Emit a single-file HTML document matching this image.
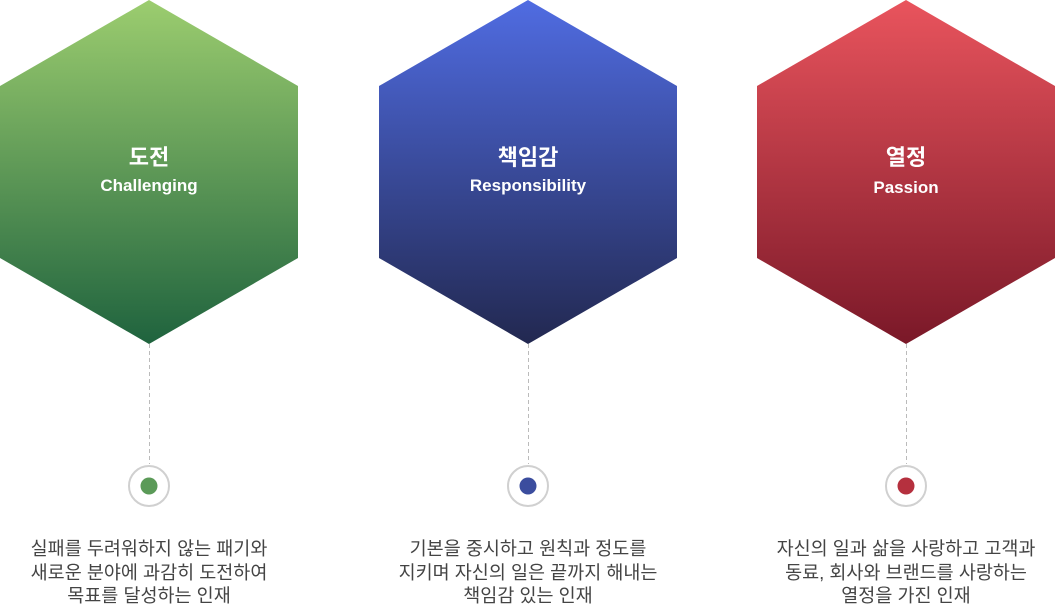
<!DOCTYPE html><html><head><meta charset="utf-8"><style>
body{margin:0;width:1055px;height:604px;background:#fff;overflow:hidden;font-family:"Liberation Sans","Noto Sans CJK KR",sans-serif;position:relative}
.t{position:absolute;width:300px;text-align:center;color:#fff}
.h{font-size:22px;font-weight:bold;top:140px}
.s{font-size:17px;font-weight:bold;top:176px}
.d{position:absolute;width:340px;text-align:center;color:#444;font-size:18.5px;line-height:23.5px;top:537px}
</style></head><body>
<svg width="1055" height="604" style="position:absolute;left:0;top:0">
<defs>
<linearGradient id="g" x1="0" y1="0" x2="0" y2="1"><stop offset="0" stop-color="#9ccd6f"/><stop offset="1" stop-color="#1f633e"/></linearGradient>
<linearGradient id="b" x1="0" y1="0" x2="0" y2="1"><stop offset="0" stop-color="#506ce2"/><stop offset="1" stop-color="#222850"/></linearGradient>
<linearGradient id="r" x1="0" y1="0" x2="0" y2="1"><stop offset="0" stop-color="#e9545d"/><stop offset="1" stop-color="#7a1828"/></linearGradient>
</defs>
<g stroke="#bbb" stroke-dasharray="4,3" stroke-width="1">
<line x1="149.5" y1="344" x2="149.5" y2="464"/><line x1="528.5" y1="344" x2="528.5" y2="464"/><line x1="906.5" y1="344" x2="906.5" y2="464"/></g>
<polygon points="149,0 298,86 298,258 149,344 0,258 0,86" fill="url(#g)"/>
<polygon points="528,0 677,86 677,258 528,344 379,258 379,86" fill="url(#b)"/>
<polygon points="906,0 1055,86 1055,258 906,344 757,258 757,86" fill="url(#r)"/>
<g fill="#fff" stroke="#d0d0d0" stroke-width="2">
<circle cx="149" cy="486" r="20"/><circle cx="528" cy="486" r="20"/><circle cx="906" cy="486" r="20"/></g>
<circle cx="149" cy="486" r="8.5" fill="#5b9a58"/><circle cx="528" cy="486" r="8.5" fill="#3b4d9e"/><circle cx="906" cy="486" r="8.5" fill="#b5303e"/>
</svg>
<div class="t h" style="left:-1px">도전</div><div class="t s" style="left:-1px">Challenging</div>
<div class="t h" style="left:378px">책임감</div><div class="t s" style="left:378px">Responsibility</div>
<div class="t h" style="left:756px">열정</div><div class="t s" style="left:756px;top:178px">Passion</div>
<div class="d" style="left:-21px">실패를 두려워하지 않는 패기와<br>새로운 분야에 과감히 도전하여<br>목표를 달성하는 인재</div>
<div class="d" style="left:358px">기본을 중시하고 원칙과 정도를<br>지키며 자신의 일은 끝까지 해내는<br>책임감 있는 인재</div>
<div class="d" style="left:736px">자신의 일과 삶을 사랑하고 고객과<br>동료, 회사와 브랜드를 사랑하는<br>열정을 가진 인재</div>
</body></html>
